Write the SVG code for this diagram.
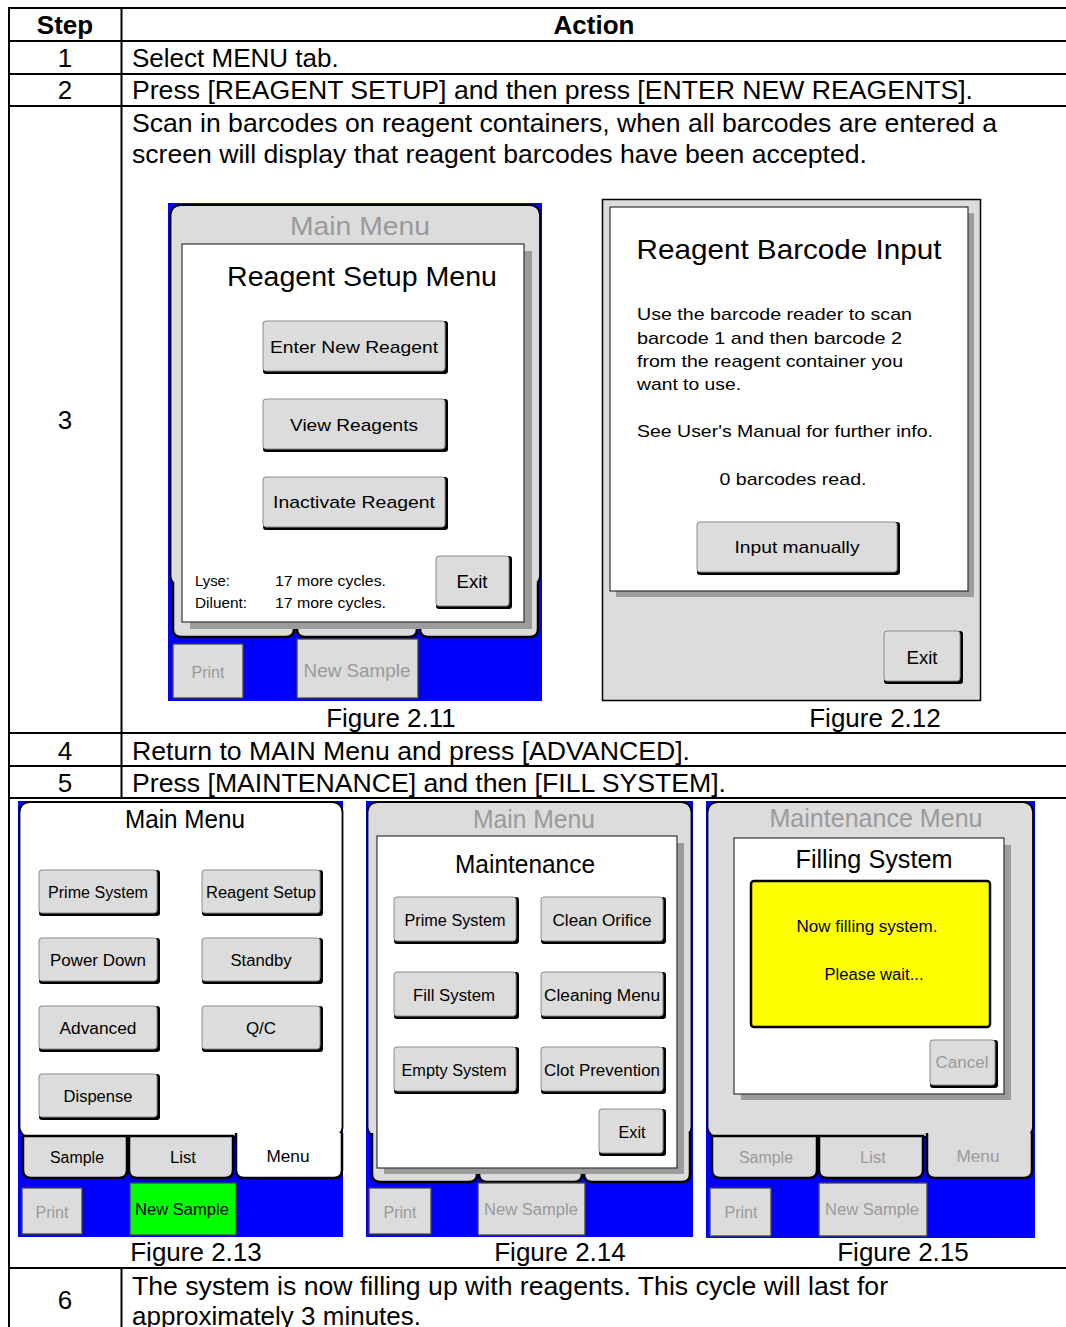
<svg xmlns="http://www.w3.org/2000/svg" width="1066" height="1327" viewBox="0 0 1066 1327">
<style>
.tx{font-family:"Liberation Sans",Arial,sans-serif;fill:#000}
.tbl{font-size:26px}
.b{font-weight:bold}
.m{text-anchor:middle}
.grid{stroke:#000;stroke-width:2;fill:none}
.bg{fill:#0000ff}
.pnl{fill:#dcdcdc;stroke:#000;stroke-width:1.8}
.pnlw{fill:#fff;stroke:#000;stroke-width:1.8}
.tab{fill:#dcdcdc;stroke:#000;stroke-width:2.5}
.tabw{fill:#fff;stroke:#000;stroke-width:2.5}
.sh{fill:#9c9c9c}
.dlg{fill:#fff;stroke:#333;stroke-width:1.2}
.bk{fill:#000}
.bf{fill:#dcdcdc;stroke:#8c8c8c;stroke-width:1}
.dis{fill:#dcdcdc;stroke:#444;stroke-width:1.3}
.s15{font-size:15px}
.s16{font-size:16px}
.s17{font-size:17px}
.s18{font-size:18px}
.ttl{font-size:27px}
.g{fill:#9a9a9a}
.yel{fill:#ffff00;stroke:#000;stroke-width:2.5}
</style>

<g id="table">
  <path class="grid" d="M9,8 H1066 M9,41 H1066 M9,74 H1066 M9,106 H1066 M9,733 H1066 M9,766 H1066 M9,798 H1066 M9,1268 H1066 M9,7 V1327 M121.5,7 V798 M121.5,1268 V1327"/>
  <text class="tx tbl b m" x="65" y="34">Step</text>
  <text class="tx tbl b m" x="594" y="34">Action</text>
  <text class="tx tbl m" x="65" y="67">1</text>
  <text class="tx tbl" x="132" y="67">Select MENU tab.</text>
  <text class="tx tbl m" x="65" y="99">2</text>
  <text class="tx tbl" x="132" y="99" textLength="841" lengthAdjust="spacingAndGlyphs">Press [REAGENT SETUP] and then press [ENTER NEW REAGENTS].</text>
  <text class="tx tbl" x="132" y="132" textLength="865" lengthAdjust="spacingAndGlyphs">Scan in barcodes on reagent containers, when all barcodes are entered a</text>
  <text class="tx tbl" x="132" y="163" textLength="735" lengthAdjust="spacingAndGlyphs">screen will display that reagent barcodes have been accepted.</text>
  <text class="tx tbl m" x="65" y="429">3</text>
  <text class="tx tbl m" x="391" y="727">Figure 2.11</text>
  <text class="tx tbl m" x="875" y="727">Figure 2.12</text>
  <text class="tx tbl m" x="65" y="760">4</text>
  <text class="tx tbl" x="132" y="760" textLength="558" lengthAdjust="spacingAndGlyphs">Return to MAIN Menu and press [ADVANCED].</text>
  <text class="tx tbl m" x="65" y="792">5</text>
  <text class="tx tbl" x="132" y="792" textLength="594" lengthAdjust="spacingAndGlyphs">Press [MAINTENANCE] and then [FILL SYSTEM].</text>
  <text class="tx tbl m" x="196" y="1261">Figure 2.13</text>
  <text class="tx tbl m" x="560" y="1261">Figure 2.14</text>
  <text class="tx tbl m" x="903" y="1261">Figure 2.15</text>
  <text class="tx tbl m" x="65" y="1309">6</text>
  <text class="tx tbl" x="132" y="1295" textLength="756" lengthAdjust="spacingAndGlyphs">The system is now filling up with reagents. This cycle will last for</text>
  <text class="tx tbl" x="132" y="1325">approximately 3 minutes.</text>
</g>

<g id="fig-2-11">
  <rect class="bg" x="168" y="203" width="374" height="498"/>
  <rect class="pnl" x="170.5" y="205" width="369.5" height="381" rx="10"/>
  <path class="tab" d="M173,582 V629 Q173,637 181,637 H286 Q294,637 294,629 V582"/>
  <path class="tab" d="M297,582 V629 Q297,637 305,637 H409 Q417,637 417,629 V582"/>
  <path class="tab" d="M420,582 V629 Q420,637 428,637 H530 Q538,637 538,629 V582"/>
  <text class="tx m g" x="360" y="235" font-size="26" textLength="140" lengthAdjust="spacingAndGlyphs">Main Menu</text>
  <rect class="sh" x="190" y="251" width="342" height="378"/>
  <rect class="dlg" x="182" y="244" width="342" height="378"/>
  <text class="tx m ttl" x="362" y="286" textLength="270" lengthAdjust="spacingAndGlyphs">Reagent Setup Menu</text>
  <rect class="bk" x="263" y="321" width="185" height="53" rx="3"/>
  <rect class="bf" x="263" y="321" width="182" height="50" rx="3"/>
  <text class="tx m s17" x="354" y="353" textLength="168" lengthAdjust="spacingAndGlyphs">Enter New Reagent</text>
  <rect class="bk" x="263" y="399" width="185" height="53" rx="3"/>
  <rect class="bf" x="263" y="399" width="182" height="50" rx="3"/>
  <text class="tx m s17" x="354" y="431" textLength="128" lengthAdjust="spacingAndGlyphs">View Reagents</text>
  <rect class="bk" x="263" y="477" width="185" height="53" rx="3"/>
  <rect class="bf" x="263" y="477" width="182" height="50" rx="3"/>
  <text class="tx m s17" x="354" y="508" textLength="162" lengthAdjust="spacingAndGlyphs">Inactivate Reagent</text>
  <rect class="bk" x="436" y="556" width="76" height="53" rx="3"/>
  <rect class="bf" x="436" y="556" width="73" height="50" rx="3"/>
  <text class="tx m s18" x="472" y="588" textLength="31" lengthAdjust="spacingAndGlyphs">Exit</text>
  <text class="tx s15" x="195" y="586" textLength="35" lengthAdjust="spacingAndGlyphs">Lyse:</text>
  <text class="tx s15" x="275" y="586" textLength="111" lengthAdjust="spacingAndGlyphs">17 more cycles.</text>
  <text class="tx s15" x="195" y="608" textLength="52" lengthAdjust="spacingAndGlyphs">Diluent:</text>
  <text class="tx s15" x="275" y="608" textLength="111" lengthAdjust="spacingAndGlyphs">17 more cycles.</text>
  <rect class="dis" x="173" y="644" width="70" height="54"/>
  <text class="tx m s16 g" x="208" y="678" textLength="33" lengthAdjust="spacingAndGlyphs">Print</text>
  <rect class="dis" x="297" y="639" width="121" height="59"/>
  <text class="tx m s18 g" x="357" y="677" textLength="107" lengthAdjust="spacingAndGlyphs">New Sample</text>
</g>

<g id="fig-2-12">
  <rect class="pnl" x="602.5" y="199.5" width="378" height="501" style="stroke-width:1.5"/>
  <rect class="sh" x="616" y="213" width="358" height="384"/>
  <rect class="dlg" x="610" y="207" width="358" height="384"/>
  <text class="tx m" x="789" y="259" font-size="28" textLength="305" lengthAdjust="spacingAndGlyphs">Reagent Barcode Input</text>
  <text class="tx s17" x="637" y="320" textLength="275" lengthAdjust="spacingAndGlyphs">Use the barcode reader to scan</text>
  <text class="tx s17" x="637" y="344" textLength="265" lengthAdjust="spacingAndGlyphs">barcode 1 and then barcode 2</text>
  <text class="tx s17" x="637" y="367" textLength="266" lengthAdjust="spacingAndGlyphs">from the reagent container you</text>
  <text class="tx s17" x="637" y="390" textLength="104" lengthAdjust="spacingAndGlyphs">want to use.</text>
  <text class="tx s17" x="637" y="437" textLength="296" lengthAdjust="spacingAndGlyphs">See User's Manual for further info.</text>
  <text class="tx m s17" x="793" y="485" textLength="147" lengthAdjust="spacingAndGlyphs">0 barcodes read.</text>
  <rect class="bk" x="697" y="522" width="203" height="53" rx="3"/>
  <rect class="bf" x="697" y="522" width="200" height="50" rx="3"/>
  <text class="tx m s17" x="797" y="553" textLength="125" lengthAdjust="spacingAndGlyphs">Input manually</text>
  <rect class="bk" x="884" y="631" width="79" height="53" rx="3"/>
  <rect class="bf" x="884" y="631" width="76" height="50" rx="3"/>
  <text class="tx m s18" x="922" y="664" textLength="31" lengthAdjust="spacingAndGlyphs">Exit</text>
</g>

<g id="fig-2-13">
  <rect class="bg" x="18" y="801" width="325" height="436"/>
  <rect class="pnlw" x="19.5" y="802" width="323" height="335" rx="10"/>
  <path class="tab" d="M23,1136 H127 V1170 Q127,1178 119,1178 H31 Q23,1178 23,1170 Z"/>
  <path class="tab" d="M129,1136 H233 V1170 Q233,1178 225,1178 H137 Q129,1178 129,1170 Z"/>
  <path class="tabw" d="M236,1133 V1170 Q236,1178 244,1178 H334 Q342,1178 342,1170 V1133"/>
  <text class="tx m" x="185" y="828" font-size="25" textLength="120" lengthAdjust="spacingAndGlyphs">Main Menu</text>
  <rect class="bk" x="39" y="870" width="121" height="46" rx="3"/>
  <rect class="bf" x="39" y="870" width="118" height="43" rx="3"/>
  <text class="tx m s16" x="98" y="898" textLength="100" lengthAdjust="spacingAndGlyphs">Prime System</text>
  <rect class="bk" x="202" y="870" width="121" height="46" rx="3"/>
  <rect class="bf" x="202" y="870" width="118" height="43" rx="3"/>
  <text class="tx m s16" x="261" y="898" textLength="110" lengthAdjust="spacingAndGlyphs">Reagent Setup</text>
  <rect class="bk" x="39" y="938" width="121" height="46" rx="3"/>
  <rect class="bf" x="39" y="938" width="118" height="43" rx="3"/>
  <text class="tx m s16" x="98" y="966" textLength="96" lengthAdjust="spacingAndGlyphs">Power Down</text>
  <rect class="bk" x="202" y="938" width="121" height="46" rx="3"/>
  <rect class="bf" x="202" y="938" width="118" height="43" rx="3"/>
  <text class="tx m s16" x="261" y="966" textLength="61" lengthAdjust="spacingAndGlyphs">Standby</text>
  <rect class="bk" x="39" y="1006" width="121" height="46" rx="3"/>
  <rect class="bf" x="39" y="1006" width="118" height="43" rx="3"/>
  <text class="tx m s16" x="98" y="1034" textLength="77" lengthAdjust="spacingAndGlyphs">Advanced</text>
  <rect class="bk" x="202" y="1006" width="121" height="46" rx="3"/>
  <rect class="bf" x="202" y="1006" width="118" height="43" rx="3"/>
  <text class="tx m s16" x="261" y="1034" textLength="30" lengthAdjust="spacingAndGlyphs">Q/C</text>
  <rect class="bk" x="39" y="1074" width="121" height="46" rx="3"/>
  <rect class="bf" x="39" y="1074" width="118" height="43" rx="3"/>
  <text class="tx m s16" x="98" y="1102" textLength="69" lengthAdjust="spacingAndGlyphs">Dispense</text>
  <text class="tx m s16" x="77" y="1163" textLength="54" lengthAdjust="spacingAndGlyphs">Sample</text>
  <text class="tx m s16" x="183" y="1163" textLength="26" lengthAdjust="spacingAndGlyphs">List</text>
  <text class="tx m s16" x="288" y="1162" textLength="43" lengthAdjust="spacingAndGlyphs">Menu</text>
  <rect class="dis" x="22" y="1188" width="60" height="46"/>
  <text class="tx m s16 g" x="52" y="1218" textLength="33" lengthAdjust="spacingAndGlyphs">Print</text>
  <rect x="130" y="1183" width="106" height="52" fill="#00ff00" stroke="#444" stroke-width="1.3"/>
  <text class="tx m s16" x="182" y="1215" textLength="94" lengthAdjust="spacingAndGlyphs">New Sample</text>
</g>

<g id="fig-2-14">
  <rect class="bg" x="366" y="801" width="327" height="436"/>
  <rect class="pnl" x="367.5" y="802" width="324" height="335" rx="10"/>
  <path class="tab" d="M372,1133 V1174 Q372,1182 380,1182 H469 Q477,1182 477,1174 V1133"/>
  <path class="tab" d="M479,1133 V1174 Q479,1182 487,1182 H574 Q582,1182 582,1174 V1133"/>
  <path class="tab" d="M584,1133 V1174 Q584,1182 592,1182 H682 Q690,1182 690,1174 V1133"/>
  <text class="tx m g" x="534" y="828" font-size="25" textLength="122" lengthAdjust="spacingAndGlyphs">Main Menu</text>
  <rect class="sh" x="384" y="843" width="300" height="331"/>
  <rect class="dlg" x="377" y="836" width="300" height="332"/>
  <text class="tx m" x="525" y="873" font-size="26" textLength="140" lengthAdjust="spacingAndGlyphs">Maintenance</text>
  <rect class="bk" x="394" y="897" width="125" height="47" rx="3"/>
  <rect class="bf" x="394" y="897" width="122" height="44" rx="3"/>
  <text class="tx m s16" x="455" y="926" textLength="101" lengthAdjust="spacingAndGlyphs">Prime System</text>
  <rect class="bk" x="541" y="897" width="125" height="47" rx="3"/>
  <rect class="bf" x="541" y="897" width="122" height="44" rx="3"/>
  <text class="tx m s16" x="602" y="926" textLength="99" lengthAdjust="spacingAndGlyphs">Clean Orifice</text>
  <rect class="bk" x="394" y="972" width="125" height="47" rx="3"/>
  <rect class="bf" x="394" y="972" width="122" height="44" rx="3"/>
  <text class="tx m s16" x="454" y="1001" textLength="82" lengthAdjust="spacingAndGlyphs">Fill System</text>
  <rect class="bk" x="541" y="972" width="125" height="47" rx="3"/>
  <rect class="bf" x="541" y="972" width="122" height="44" rx="3"/>
  <text class="tx m s16" x="602" y="1001" textLength="116" lengthAdjust="spacingAndGlyphs">Cleaning Menu</text>
  <rect class="bk" x="394" y="1047" width="125" height="47" rx="3"/>
  <rect class="bf" x="394" y="1047" width="122" height="44" rx="3"/>
  <text class="tx m s16" x="454" y="1076" textLength="105" lengthAdjust="spacingAndGlyphs">Empty System</text>
  <rect class="bk" x="541" y="1047" width="125" height="47" rx="3"/>
  <rect class="bf" x="541" y="1047" width="122" height="44" rx="3"/>
  <text class="tx m s16" x="602" y="1076" textLength="116" lengthAdjust="spacingAndGlyphs">Clot Prevention</text>
  <rect class="bk" x="599" y="1109" width="67" height="47" rx="3"/>
  <rect class="bf" x="599" y="1109" width="64" height="44" rx="3"/>
  <text class="tx m s16" x="632" y="1138" textLength="27" lengthAdjust="spacingAndGlyphs">Exit</text>
  <rect class="dis" x="369" y="1188" width="62" height="46"/>
  <text class="tx m s16 g" x="400" y="1218" textLength="33" lengthAdjust="spacingAndGlyphs">Print</text>
  <rect class="dis" x="478" y="1183" width="107" height="52"/>
  <text class="tx m s16 g" x="531" y="1215" textLength="94" lengthAdjust="spacingAndGlyphs">New Sample</text>
</g>

<g id="fig-2-15">
  <rect class="bg" x="706" y="801" width="329" height="437"/>
  <rect class="pnl" x="707.5" y="802" width="325.5" height="335" rx="10"/>
  <path class="tab" d="M712,1136 H817 V1170 Q817,1178 809,1178 H720 Q712,1178 712,1170 Z"/>
  <path class="tab" d="M819,1136 H923 V1170 Q923,1178 915,1178 H827 Q819,1178 819,1170 Z"/>
  <path class="tab" d="M927,1133 V1170 Q927,1178 935,1178 H1024 Q1032,1178 1032,1170 V1133"/>
  <text class="tx m g" x="876" y="827" font-size="25" textLength="213" lengthAdjust="spacingAndGlyphs">Maintenance Menu</text>
  <rect class="sh" x="741" y="845" width="270" height="255"/>
  <rect class="dlg" x="734" y="838" width="270" height="256"/>
  <text class="tx m" x="874" y="868" font-size="26" textLength="157" lengthAdjust="spacingAndGlyphs">Filling System</text>
  <rect class="yel" x="751" y="881" width="239" height="146" rx="3"/>
  <text class="tx m s16" x="867" y="932" textLength="141" lengthAdjust="spacingAndGlyphs">Now filling system.</text>
  <text class="tx m s16" x="874" y="980" textLength="99" lengthAdjust="spacingAndGlyphs">Please wait...</text>
  <rect class="bk" x="930" y="1040" width="68" height="48" rx="3"/>
  <rect class="bf" x="930" y="1040" width="65" height="45" rx="3"/>
  <text class="tx m s16 g" x="962" y="1068" textLength="53" lengthAdjust="spacingAndGlyphs">Cancel</text>
  <text class="tx m s16 g" x="766" y="1163" textLength="54" lengthAdjust="spacingAndGlyphs">Sample</text>
  <text class="tx m s16 g" x="873" y="1163" textLength="26" lengthAdjust="spacingAndGlyphs">List</text>
  <text class="tx m s16 g" x="978" y="1162" textLength="43" lengthAdjust="spacingAndGlyphs">Menu</text>
  <rect class="dis" x="710" y="1188" width="61" height="48"/>
  <text class="tx m s16 g" x="741" y="1218" textLength="33" lengthAdjust="spacingAndGlyphs">Print</text>
  <rect class="dis" x="819" y="1183" width="108" height="53"/>
  <text class="tx m s16 g" x="872" y="1215" textLength="94" lengthAdjust="spacingAndGlyphs">New Sample</text>
</g>
</svg>
